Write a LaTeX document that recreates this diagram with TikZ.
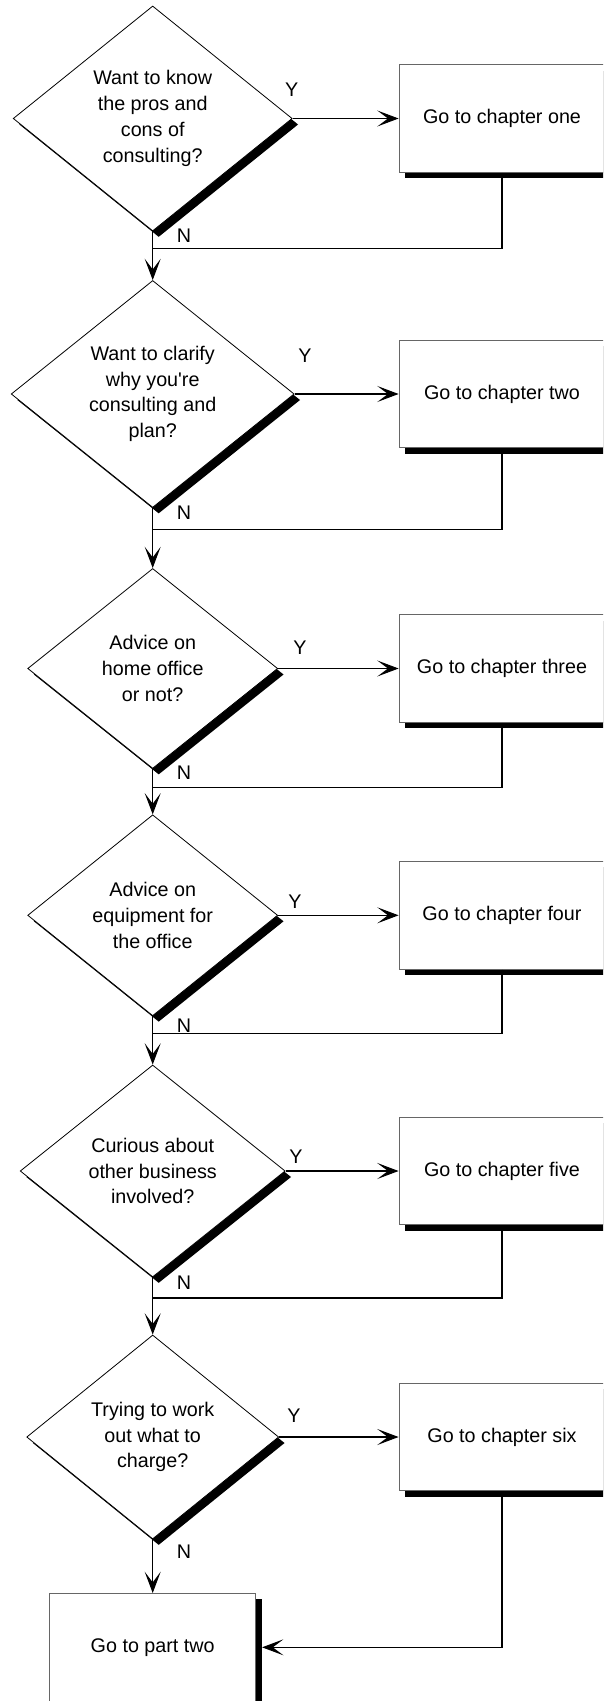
\documentclass[tikz,border=0pt]{standalone}
\usepackage{fontspec}
\setmainfont{Liberation Sans}
\usetikzlibrary{shapes.geometric,shadows,arrows.meta}

\tikzset{
  shade/.style={drop shadow={shadow xshift=4.5pt,shadow yshift=-4.5pt,opacity=1,fill=black}},
  decision/.style={diamond,draw,line width=0.6pt,fill=white,inner sep=0pt,align=center,shade},
  chapter/.style={rectangle,draw=black!60,line width=0.6pt,fill=white,
    minimum width=154.5pt,minimum height=80.8pt,shade},
  link/.style={line width=0.8pt},
  flow/.style={link,-{Stealth[length=16pt,width=12pt,inset=8pt]}},
  lbl/.style={inner sep=0pt}
}

\begin{document}
\begin{tikzpicture}[x=0.75pt,y=-0.75pt,font=\fontsize{14.8}{19.3}\selectfont]
    \useasboundingbox (0,0) rectangle (603,1701);
    \clip (0,0) rectangle (603,1701);
    \foreach \i/\yc/\dw/\dh/\yx/\yy/\ny/\ry/\qtext/\btext in {
        1/118.5/279/225/291.7/90/236/248.3/{Want to know\\the pros and\\cons of\\consulting?}/one,
        2/394/283/227/305/356/513/529.3/{Want to clarify\\why you\textquotesingle re\\consulting and\\plan?}/two,
        3/668.5/250/200/300/648/773/787.3/{Advice on\\home office\\or not?}/three,
        4/915.3/250/201/295/901.7/1026/1033.3/{Advice on\\equipment for\\the office}/four,
        5/1171/265/212/296/1156.7/1283/1298/{Curious about\\other business\\involved?}/five,
        6/1437/252/204/294/1416/1551.7/1647.3/{Trying to work\\out what to\\charge?}/six} {
      \node[decision,minimum width=\dw*0.75pt,minimum height=\dh*0.75pt] (d\i) at (152.7,\yc) {\qtext};
      \node[chapter] (b\i) at (502,\yc) {Go to chapter \btext};
      \node[lbl] (y\i) at (\yx,\yy) {Y};
      \node[lbl] (n\i) at (184,\ny) {N};
      \coordinate (j\i) at (152.7,\ry);
      \draw[flow] (d\i.east) -- (b\i.west);
    }
    % way down the left side
    \foreach \i [count=\j from 2] in {1,...,5} {
      \draw[flow] (d\i.south) -- (d\j.north);
      \draw[link] (b\i.south) |- (j\i);
    }
    \node[chapter] (fin) at (152.7,1647.3) {Go to part two};
    \draw[flow] (d6.south) -- (fin.north);
    \draw[flow] (b6.south) |- ([xshift=4.5pt]fin.east);
\end{tikzpicture}
\end{document}
